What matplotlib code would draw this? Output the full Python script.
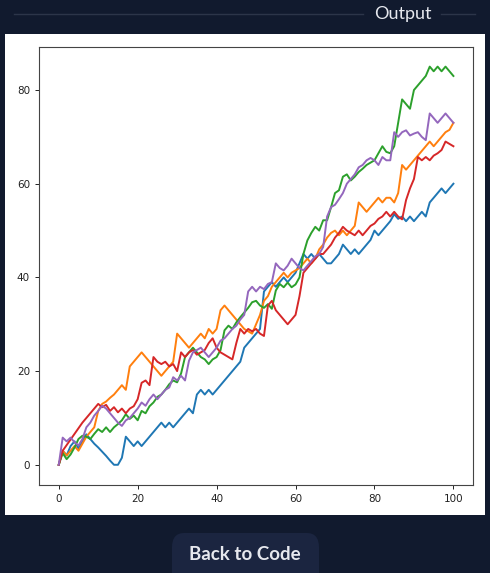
import numpy as np
import matplotlib.pyplot as plt
from matplotlib.patches import Rectangle, FancyBboxPatch

steps = np.arange(101)

blue = [0, 3, 2, 4, 5, 3.5, 5, 6.5, 5.5, 4.5, 3.7, 2.8, 1.9, 0.9, 0, 0, 1.5, 6, 5, 4,
        5, 4, 5, 6, 7, 8, 9, 8, 9, 8, 9, 10, 11, 12, 11, 15, 16, 15, 16, 15,
        16, 17, 18, 19, 20, 21, 22, 25, 26, 27, 28, 29, 37, 38, 39, 38, 39, 40, 39, 40,
        41, 43, 45, 44, 45, 44, 45, 44, 43, 43, 44, 45, 47, 46, 45, 46, 45, 46, 47, 48,
        50, 49, 50, 51, 52, 53.5, 52.5, 53, 52, 53, 52, 53, 54, 53, 56, 57, 58, 59, 58, 59,
        60]

orange = [0, 3, 2, 3, 4, 3, 4.5, 6, 7, 8, 11.5, 13, 13.5, 14.3, 15, 16, 17, 16, 21, 22,
          23, 24, 23, 22, 21, 20, 19, 20, 21, 22, 28, 27, 26, 25, 26, 27, 28, 27, 29, 28,
          29, 33, 34, 33, 32, 31, 30, 29, 28.5, 28, 30, 32, 35, 36, 38, 39, 40, 41, 40, 41,
          41.5, 42, 43, 44, 43, 44, 46, 47, 48.5, 49.5, 50, 49, 50, 49, 50, 51, 56, 55, 54, 55,
          56, 57, 56, 57, 57, 56, 58, 64, 63, 64, 65, 66, 67, 68, 69, 68, 69, 70, 71, 71.5,
          73]

green = [0, 2.5, 1.2, 2.2, 3.7, 5.5, 6.2, 6, 5.5, 6.6, 7.6, 7, 8, 7, 8, 8.7, 9.5, 10.8, 9.8, 10.5,
         9.5, 11.5, 11, 12.5, 13.3, 14.5, 15, 16, 17.2, 18, 17.6, 19.5, 23, 24, 25, 24, 23, 22.5, 21.5, 22.5,
         23, 24.5, 28.7, 29.7, 29, 30.4, 31.5, 32.5, 33.5, 34.7, 35, 34, 33.5, 34.3, 33.3, 37.2, 38.6, 37.9, 38.9, 37.9,
         38.5, 40, 45, 47.9, 49.5, 50.8, 50, 52.2, 52.2, 55, 58, 58.6, 61.5, 62, 60.7, 61.5, 62.5, 63.2, 64, 64.5,
         65, 66.5, 68, 66.8, 66.5, 68, 73, 78, 77, 76, 80, 81, 82, 83, 85, 84, 85, 84, 85, 84,
         83]

red = [0, 3, 4.2, 5.4, 6.6, 7.8, 9, 10, 11, 12, 13, 12.3, 12.8, 11.5, 12.3, 11.2, 12, 11, 12, 12.5,
       14, 17.5, 18, 17, 23, 22, 21.5, 22, 21, 21.5, 20, 24, 23, 24, 24.5, 23.5, 24, 24.5, 26, 27,
       25, 24, 23.5, 23, 22.5, 26, 29, 28, 29, 28.5, 29, 28, 27.5, 34, 35, 33, 32, 31, 30, 31,
       32, 36, 41, 42, 43, 44, 45, 45, 46, 47, 48.5, 49.5, 50.8, 50, 49.5, 49, 50, 49, 50, 51,
       51.5, 52.5, 53, 54, 53, 54, 53, 52.4, 56.5, 59, 61, 65.7, 65, 65.7, 65, 66, 66.5, 67.2, 69, 68.5,
       68]

purple = [0, 5.8, 5, 5.8, 4.8, 4.1, 5.5, 8, 9, 10.5, 11.5, 12.6, 12, 11, 10, 9, 8.3, 9.5, 10, 11,
          12, 13.3, 12.6, 14, 15, 14, 15, 16, 16.5, 18.7, 18, 19, 18, 22.2, 24, 24.5, 25, 24, 23, 24,
          25, 26.5, 27, 28, 29, 29.7, 31, 32, 37, 38, 37, 38, 37.5, 38.6, 39, 43, 42, 41.5, 42.5, 44,
          43, 42, 41.5, 42.5, 43.5, 44.5, 45, 46.5, 53, 55, 55.5, 56.7, 58, 60, 61, 62, 63.5, 64, 65, 65.5,
          65, 64, 65.7, 65, 65, 71, 70, 71, 71.4, 70.3, 70.7, 71, 70, 69.3, 75, 74, 73, 74, 75, 74,
          73]

series = [blue, orange, green, red, purple]
colors = ['#1f77b4', '#ff7f0e', '#2ca02c', '#d62728', '#9467bd']

bg = '#111a2e'
fig = plt.figure(figsize=(4.9, 5.73), dpi=100, facecolor=bg)

# white output panel (behind the axes)
fig.patches.append(Rectangle((0.0102, 0.1012), 0.9796, 0.8395, transform=fig.transFigure,
                             facecolor='white', edgecolor='none', zorder=-2))

# header: "Output" with rules either side
fig.add_artist(plt.Line2D([14 / 490, 363 / 490], [1 - 14 / 573] * 2, color='#2c3549', lw=1))
fig.add_artist(plt.Line2D([441 / 490, 475 / 490], [1 - 14 / 573] * 2, color='#2c3549', lw=1))
fig.text(403 / 490, 1 - 14 / 573, 'Output', color='#e6e8ee', fontsize=13,
         family='Lato', ha='center', va='center')

# "Back to Code" button
fig.patches.append(FancyBboxPatch((172 / 490, -0.05), 147 / 490, (573 - 533) / 573 + 0.05,
                                  boxstyle='round,pad=0,rounding_size=0.025', transform=fig.transFigure,
                                  facecolor='#1b2540', edgecolor='none', zorder=-2))
fig.text(245 / 490, 1 - 554 / 573, 'Back to Code', color='#e6e8ee', fontsize=13.5,
         family='Lato', fontweight='bold', ha='center', va='center')

ax = fig.add_axes([0.0796, 0.1541, 0.886, 0.7644])
ax.set_facecolor('white')
for vals, c in zip(series, colors):
    ax.plot(steps, vals, color=c, lw=1.4)

ax.set_xticks([0, 20, 40, 60, 80, 100])
ax.set_yticks([0, 20, 40, 60, 80])
ax.tick_params(labelsize=7.5, colors='#222222', length=3, width=0.7)
for s in ax.spines.values():
    s.set_color('#444444')
    s.set_linewidth(0.8)

fig.savefig('out.png', dpi=100, facecolor=bg)
